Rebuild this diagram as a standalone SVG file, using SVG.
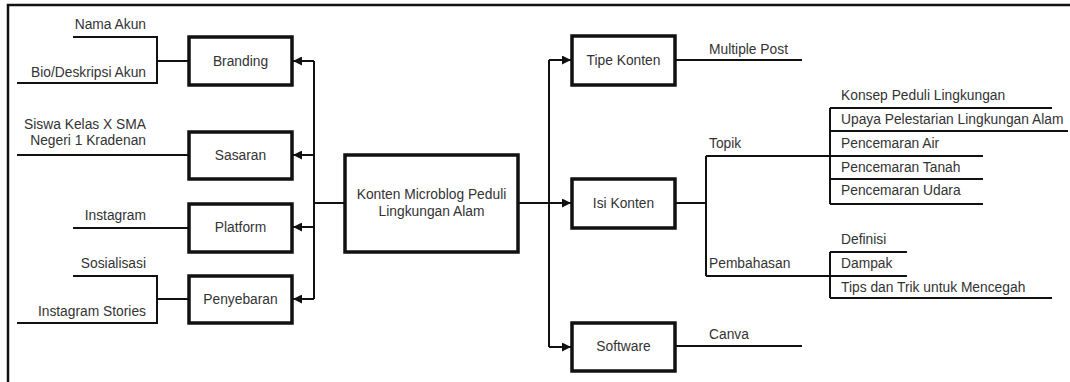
<svg xmlns="http://www.w3.org/2000/svg" width="1070" height="382" viewBox="0 0 1070 382">
<style>
.box{fill:#fff;stroke:#111;stroke-width:3.5}
.ln{fill:none;stroke:#111;stroke-width:2}
.t{font-family:"Liberation Sans",Arial,sans-serif;font-size:13.8px;fill:#333}
.r{text-anchor:end}
.c{text-anchor:middle}
</style>
<defs>
<marker id="ah" viewBox="0 0 10 10" refX="10" refY="5" markerWidth="9" markerHeight="9" markerUnits="userSpaceOnUse" orient="auto">
<path d="M0,0 L10,5 L0,10 Z" fill="#111"/>
</marker>
</defs>
<rect width="1070" height="382" fill="#fff"/>
<g id="frame">
<path d="M8,382 V5 H1070" fill="none" stroke="#111" stroke-width="2.5"/>
</g>
<g id="connectors">
<path class="ln" d="M345,203 H314"/>
<path class="ln" d="M314,61 V299"/>
<path class="ln" d="M314,61 H293" marker-end="url(#ah)"/>
<path class="ln" d="M314,155 H293" marker-end="url(#ah)"/>
<path class="ln" d="M314,227 H293" marker-end="url(#ah)"/>
<path class="ln" d="M314,299 H293" marker-end="url(#ah)"/>
<path class="ln" d="M518,203 H549"/>
<path class="ln" d="M549,60 V347"/>
<path class="ln" d="M549,60 H571" marker-end="url(#ah)"/>
<path class="ln" d="M549,203 H571" marker-end="url(#ah)"/>
<path class="ln" d="M549,347 H571" marker-end="url(#ah)"/>
<path class="ln" d="M189,61 H157 M73,37 H157 V83 H17"/>
<path class="ln" d="M189,155 H17"/>
<path class="ln" d="M189,228 H73"/>
<path class="ln" d="M189,299 H157 M73,276 H157 V323 H17"/>
<path class="ln" d="M675,60 H802"/>
<path class="ln" d="M675,203 H706 M706,156 V276"/>
<path class="ln" d="M706,156 H983"/>
<path class="ln" d="M830,108 V204 M830,108 H1052 M830,131 H1068 M830,179 H983 M830,204 H983"/>
<path class="ln" d="M706,276 H907 M830,252 V298 M830,252 H907 M830,298 H1052"/>
<path class="ln" d="M675,346 H802"/>
</g>
<g id="n-branding"><rect class="box" x="189" y="37" width="103" height="48"/><text class="t c" x="240.5" y="66">Branding</text></g>
<g id="n-sasaran"><rect class="box" x="189" y="132" width="103" height="47"/><text class="t c" x="240.5" y="160">Sasaran</text></g>
<g id="n-platform"><rect class="box" x="189" y="204" width="103" height="48"/><text class="t c" x="240.5" y="232">Platform</text></g>
<g id="n-penyebaran"><rect class="box" x="189" y="276" width="103" height="47"/><text class="t c" x="240.5" y="304">Penyebaran</text></g>
<g id="n-center"><rect class="box" x="345" y="155" width="173" height="97"/><text class="t c" x="431.5" y="199">Konten Microblog Peduli</text><text class="t c" x="431.5" y="216">Lingkungan Alam</text></g>
<g id="n-tipe"><rect class="box" x="572" y="36" width="103" height="49"/><text class="t c" x="623.5" y="65">Tipe Konten</text></g>
<g id="n-isi"><rect class="box" x="572" y="179" width="103" height="49"/><text class="t c" x="623.5" y="208">Isi Konten</text></g>
<g id="n-software"><rect class="box" x="572" y="323" width="103" height="48"/><text class="t c" x="623.5" y="351">Software</text></g>
<g id="labels">
<text class="t r" x="146" y="29">Nama Akun</text>
<text class="t r" x="146" y="77">Bio/Deskripsi Akun</text>
<text class="t r" x="146" y="129">Siswa Kelas X SMA</text>
<text class="t r" x="146" y="145">Negeri 1 Kradenan</text>
<text class="t r" x="146" y="220">Instagram</text>
<text class="t r" x="146" y="268">Sosialisasi</text>
<text class="t r" x="146" y="316">Instagram Stories</text>
<text class="t" x="709" y="54">Multiple Post</text>
<text class="t" x="709" y="148">Topik</text>
<text class="t" x="709" y="268">Pembahasan</text>
<text class="t" x="709" y="339">Canva</text>
<text class="t" x="841" y="100">Konsep Peduli Lingkungan</text>
<text class="t" x="841" y="124">Upaya Pelestarian Lingkungan Alam</text>
<text class="t" x="841" y="148">Pencemaran Air</text>
<text class="t" x="841" y="172">Pencemaran Tanah</text>
<text class="t" x="841" y="195">Pencemaran Udara</text>
<text class="t" x="841" y="244">Definisi</text>
<text class="t" x="841" y="268">Dampak</text>
<text class="t" x="841" y="292">Tips dan Trik untuk Mencegah</text>
</g>
</svg>
